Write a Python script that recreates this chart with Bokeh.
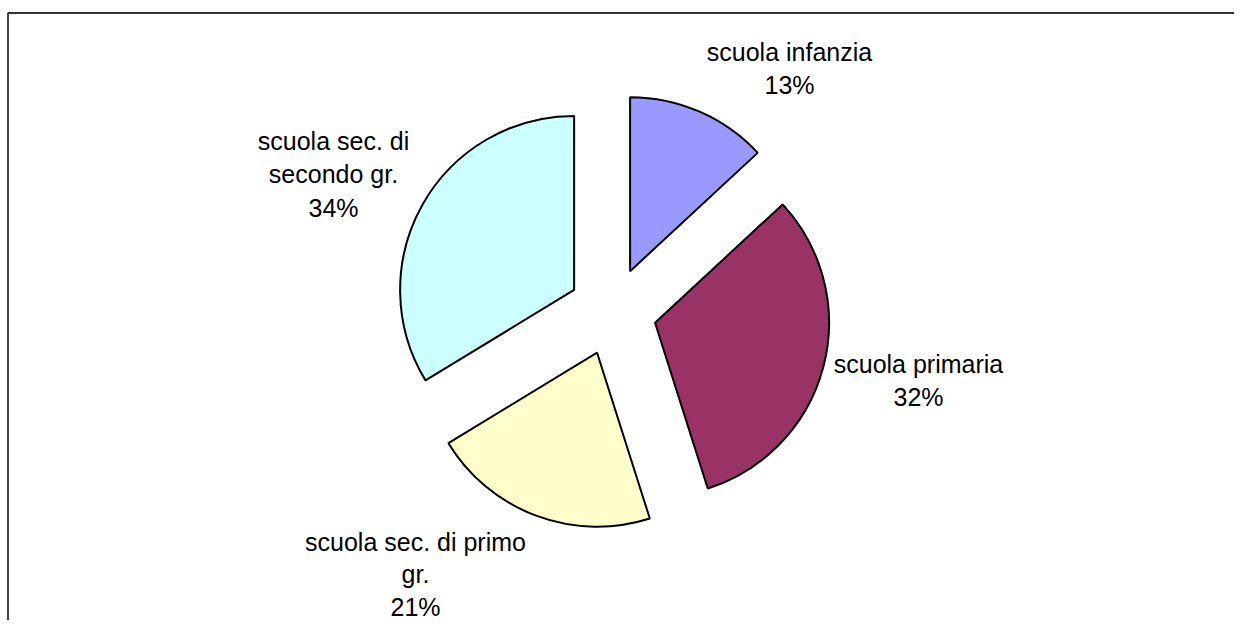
import numpy as np
from bokeh.plotting import figure
from bokeh.models import Range1d, ColumnDataSource
from bokeh.core.properties import value
from bokeh.embed import file_html
from bokeh.resources import INLINE

# ---- data ----
categories = ["scuola infanzia", "scuola primaria", "scuola sec. di primo gr.", "scuola sec. di secondo gr."]
shares = [13.1, 32.0, 21.2, 33.7]
label_lines = [["scuola infanzia", "13%"],
               ["scuola primaria", "32%"],
               ["scuola sec. di primo", "gr.", "21%"],
               ["scuola sec. di", "secondo gr.", "34%"]]
colors = ["#9999FF", "#993366", "#FFFFCC", "#CCFFFF"]

# ---- layout (pixels of the picture) ----
W, H = 1234, 620
def dx(px): return px
def dy(py): return H - py

center_px = (612, 311)
radius = 174
explode = 44
label_pos = [(789, 51), (918, 363), (415, 541), (333, 140)]  # centre x, first baseline y
line_steps = [33.5, 33.5, 32.5, 33.5]

p = figure(width=W, height=H, output_backend="svg", toolbar_location=None,
           x_range=Range1d(0, W), y_range=Range1d(0, H), min_border=0)
p.axis.visible = False
p.grid.visible = False
p.outline_line_color = None
p.background_fill_color = "white"

# frame lines (top and left)
p.line([dx(7.5), dx(7.5), W], [0, dy(12.5), dy(12.5)], line_color="#333333", line_width=1.8)

total = sum(shares)
cum = np.cumsum([0] + shares) / total * 360.0
cx0, cy0 = dx(center_px[0]), dy(center_px[1])
xs, ys, starts, ends = [], [], [], []
for i in range(len(shares)):
    a1, a2 = cum[i], cum[i + 1]
    m = np.radians((a1 + a2) / 2)
    xs.append(cx0 + explode * np.sin(m))
    ys.append(cy0 + explode * np.cos(m))
    starts.append(np.radians(90 - a2))
    ends.append(np.radians(90 - a1))

src = ColumnDataSource(dict(x=xs, y=ys, s=starts, e=ends, c=colors, name=categories))
p.wedge(x="x", y="y", radius=radius, start_angle="s", end_angle="e", fill_color="c",
        line_color="black", line_width=2, source=src)

tx, ty, tt = [], [], []
for lines, (lx, ly), step in zip(label_lines, label_pos, line_steps):
    for k, t in enumerate(lines):
        tx.append(dx(lx))
        ty.append(dy(ly + k * step))
        tt.append(t)
p.text(x=tx, y=ty, text=tt, text_align="center", text_baseline="alphabetic",
       text_font=value("Liberation Sans"), text_font_size="25px", text_color="black")

open("out.html", "w").write(file_html(p, INLINE))
